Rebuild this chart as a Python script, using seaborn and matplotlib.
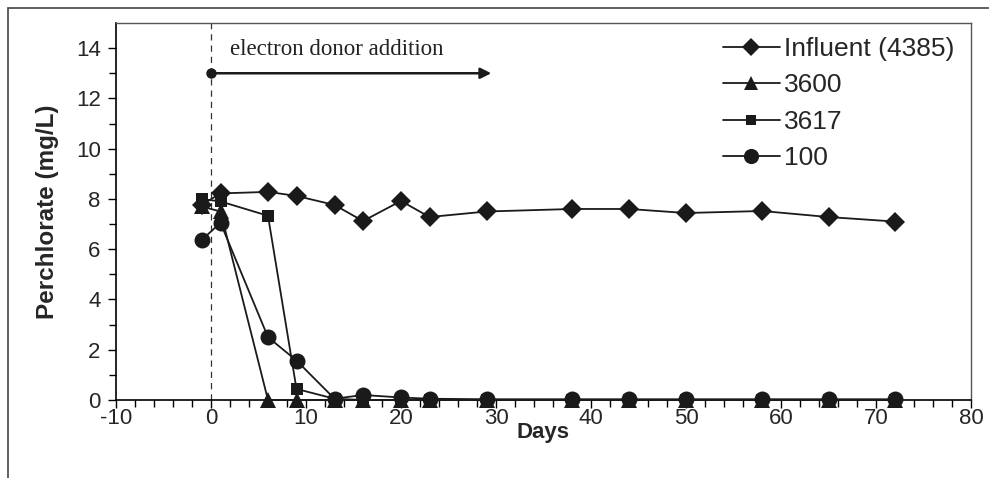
import matplotlib
matplotlib.use("Agg")
import matplotlib.pyplot as plt
import seaborn as sns
import pandas as pd
from matplotlib.lines import Line2D
from matplotlib.patches import Rectangle

days = [-1, 1, 6, 9, 13, 16, 20, 23, 29, 38, 44, 50, 58, 65, 72]
influent = [7.76, 8.22, 8.28, 8.12, 7.76, 7.12, 7.92, 7.28, 7.5, 7.6, 7.6, 7.44, 7.52, 7.28, 7.1]
w3600 = [7.7, 7.5, 0.0, 0.0, 0.0, 0.0, 0.0, 0.0, 0.0, 0.0, 0.0, 0.0, 0.0, 0.0, 0.0]
w3617 = [8.0, 7.9, 7.33, 0.44, 0.05, 0.0, 0.0, 0.0, 0.0, 0.0, 0.0, 0.0, 0.0, 0.0, 0.0]
w100 = [6.36, 7.05, 2.5, 1.57, 0.05, 0.2, 0.1, 0.05, 0.03, 0.03, 0.03, 0.03, 0.03, 0.03, 0.03]
labels = ["Influent (4385)", "3600", "3617", "100"]
annot_text = "electron donor addition"

sns.set_theme(style="white")
plt.rcParams['font.family'] = ['Liberation Sans', 'DejaVu Sans']
plt.rcParams['axes.unicode_minus'] = False

fig = plt.figure(figsize=(9.89, 4.78), dpi=100)
W, H = 989, 478
ax = fig.add_axes([116 / W, 1 - 400 / H, (971 - 116) / W, (400 - 23) / H])

# outer border
fig.patches.append(Rectangle((8 / W, -0.1), 1.2, 1 - 8 / H + 0.1, transform=fig.transFigure,
                             fill=False, edgecolor='#444444', lw=1.2, zorder=0))

series = [influent, w3600, w3617, w100]
markers = ['D', '^', 's', 'o']
msizes = [10, 11, 8, 11.5]
handles = []
for vals, mk, ms, lab in zip(series, markers, msizes, labels):
    df = pd.DataFrame({"day": days, "val": vals})
    sns.lineplot(data=df, x="day", y="val", ax=ax, color='#1a1a1a', lw=1.3,
                 marker=mk, markersize=ms, markeredgewidth=0, markerfacecolor='#1a1a1a',
                 clip_on=False, zorder=3, legend=False)
    handles.append(Line2D([], [], color='#1a1a1a', lw=1.3, marker=mk,
                          markersize=ms * 0.95, markeredgewidth=0, label=lab))

ax.set_xlim(-10, 80)
ax.set_ylim(0, 15)
ax.set_xticks(range(-10, 81, 10))
ax.set_xticks(range(-10, 81, 2), minor=True)
ax.set_yticks(range(0, 15, 2))
ax.set_yticks(range(1, 15, 2), minor=True)
ax.tick_params(axis='both', which='major', direction='out', length=6, width=1,
               labelsize=16, color='black', bottom=True, left=True)
ax.tick_params(axis='x', which='major', pad=0)
ax.tick_params(axis='y', which='major', pad=5)
ax.tick_params(axis='both', which='minor', direction='out', length=5, width=1,
               color='black', bottom=True, left=True)
for s in ['left', 'bottom']:
    ax.spines[s].set_color('black')
    ax.spines[s].set_linewidth(1.2)
for s in ['top', 'right']:
    ax.spines[s].set_color('#555555')
    ax.spines[s].set_linewidth(1.0)

ax.set_xlabel("Days", fontsize=16, fontweight='bold', labelpad=-5)
ax.set_ylabel("Perchlorate (mg/L)", fontsize=17.5, fontweight='bold', labelpad=12)

# vertical dashed line at day 0
ax.axvline(0, color='#333333', lw=0.9, ls=(0, (5, 4)), zorder=1)

# electron donor addition arrow
ax.annotate("", xy=(29.5, 13), xytext=(0, 13),
            arrowprops=dict(arrowstyle='-|>', lw=1.8, color='#1a1a1a', mutation_scale=16,
                            shrinkA=0, shrinkB=0))
ax.plot([0], [13], marker='o', color='#1a1a1a', markersize=6.5, zorder=4)
ax.text(2.0, 13.95, annot_text, fontsize=16.5, family=['Liberation Serif', 'DejaVu Serif'],
        ha='left', va='center', color='#222222')

leg = ax.legend(handles=handles, loc='upper left', bbox_to_anchor=(723 / W, 1 - 37 / H),
                bbox_transform=fig.transFigure, frameon=False, fontsize=19,
                handlelength=2.15, handletextpad=0.17, labelspacing=0.47, borderpad=0,
                borderaxespad=0)

fig.savefig("out.png", dpi=100)
